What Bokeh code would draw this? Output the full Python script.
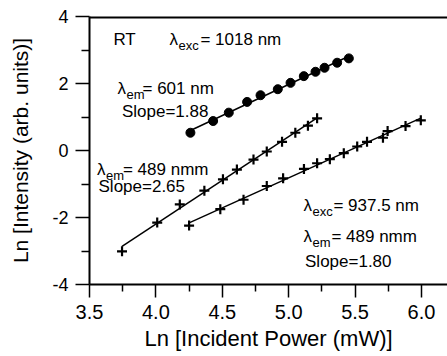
import numpy as np
from bokeh.plotting import figure
from bokeh.models import Range1d, FixedTicker, Label
from bokeh.embed import file_html
from bokeh.resources import INLINE

# ---- data ----
# lambda_exc = 1018 nm, lambda_em = 601 nm (circles)
x_601 = [4.260, 4.431, 4.549, 4.687, 4.788, 4.918, 5.014, 5.114, 5.202, 5.270, 5.365, 5.453]
y_601 = [0.53, 0.88, 1.13, 1.45, 1.65, 1.83, 2.02, 2.22, 2.35, 2.47, 2.62, 2.75]

# lambda_exc = 1018 nm, lambda_em = 489 nm (crosses, slope 2.65)
x_489a = [3.745, 4.010, 4.180, 4.365, 4.505, 4.610, 4.735, 4.835, 4.950, 5.050, 5.145, 5.214]
y_489a = [-3.01, -2.15, -1.61, -1.20, -0.86, -0.57, -0.27, -0.03, 0.26, 0.53, 0.74, 0.96]

# lambda_exc = 937.5 nm, lambda_em = 489 nm (crosses, slope 1.80)
x_489b = [4.250, 4.485, 4.660, 4.835, 4.958, 5.115, 5.214, 5.310, 5.415, 5.516, 5.590, 5.710, 5.745, 5.880, 5.995]
y_489b = [-2.24, -1.75, -1.47, -1.06, -0.83, -0.55, -0.38, -0.26, -0.08, 0.12, 0.26, 0.38, 0.58, 0.73, 0.90]

x_ticks = [3.5, 4.0, 4.5, 5.0, 5.5, 6.0]
x_tick_labels = ["3.5", "4.0", "4.5", "5.0", "5.5", "6.0"]
x_minor = [3.75, 4.25, 4.75, 5.25, 5.75]
y_ticks = [-4, -2, 0, 2, 4]
y_tick_labels = ["-4", "-2", "0", "2", "4"]
y_minor = [-3, -1, 1, 3]

X_LO, X_HI = 3.5, 6.196
Y_LO, Y_HI = -4, 4

FONT = "Liberation Sans"

p = figure(width=447, height=356, output_backend="svg", toolbar_location=None,
           x_range=Range1d(X_LO, X_HI), y_range=Range1d(Y_LO, Y_HI))
p.min_border_left = 89
p.min_border_right = 0
p.min_border_top = 16
p.min_border_bottom = 72
p.outline_line_color = None
p.grid.grid_line_color = None
p.background_fill_color = "white"
p.border_fill_color = "white"

# x axis
xa = p.xaxis[0]
xa.ticker = FixedTicker(ticks=x_ticks, minor_ticks=x_minor)
xa.major_label_overrides = dict(zip(x_ticks, x_tick_labels))
xa.axis_label = "Ln [Incident Power (mW)]"
xa.axis_label_text_font = FONT
xa.axis_label_text_font_size = "22px"
xa.axis_label_text_font_style = "normal"
xa.axis_label_text_color = "black"
xa.axis_label_standoff = 4
xa.major_label_text_font = FONT
xa.major_label_text_font_size = "20px"
xa.major_label_text_color = "black"
xa.major_label_standoff = 7
xa.axis_line_width = 2
xa.axis_line_color = "black"
xa.major_tick_out = 13
xa.major_tick_in = 0
xa.minor_tick_out = 7
xa.minor_tick_in = 0
xa.major_tick_line_width = 1.5
xa.minor_tick_line_width = 1.5
xa.major_tick_line_color = "black"
xa.minor_tick_line_color = "black"

# y axis
ya = p.yaxis[0]
ya.ticker = FixedTicker(ticks=y_ticks, minor_ticks=y_minor)
ya.major_label_overrides = dict(zip(y_ticks, y_tick_labels))
ya.axis_label = "Ln [Intensity (arb. units)]"
ya.axis_label_text_font = FONT
ya.axis_label_text_font_size = "21px"
ya.axis_label_text_font_style = "normal"
ya.axis_label_text_color = "black"
ya.axis_label_standoff = 17
ya.major_label_text_font = FONT
ya.major_label_text_font_size = "18px"
ya.major_label_text_color = "black"
ya.major_label_standoff = 7
ya.axis_line_width = 2
ya.axis_line_color = "black"
ya.major_tick_out = 14
ya.major_tick_in = 0
ya.minor_tick_out = 8
ya.minor_tick_in = 0
ya.major_tick_line_width = 1.5
ya.minor_tick_line_width = 1.5
ya.major_tick_line_color = "black"
ya.minor_tick_line_color = "black"

# top frame line only (the reference has no right-hand border);
# drawn on the frame's top edge, half of it is clipped away
p.line([X_LO, X_HI], [Y_HI, Y_HI], line_color="black", line_width=4)

# series: fitted straight lines through each data set, plus markers
def fit_line(xs, ys):
    k, b = np.polyfit(xs, ys, 1)
    xe = [min(xs), max(xs)]
    return xe, [k * v + b for v in xe]

for xs, ys in ((x_601, y_601), (x_489a, y_489a), (x_489b, y_489b)):
    fx, fy = fit_line(xs, ys)
    p.line(fx, fy, line_color="black", line_width=1.5)

p.scatter(x_601, y_601, marker="circle", size=9, color="black")
p.scatter(x_489a, y_489a, marker="cross", size=10, line_color="black", line_width=2.2)
p.scatter(x_489b, y_489b, marker="cross", size=10, line_color="black", line_width=2.2)


def txt(x, y, s, size="17px", dx=0, dy=0):
    p.add_layout(Label(x=x, y=y, text=s, x_offset=dx, y_offset=dy,
                       text_font=FONT, text_font_size=size, text_color="black",
                       text_baseline="alphabetic", text_align="left"))


def lam(x, y, sub, rest, sub_dx=9, rest_dx=30):
    txt(x, y, "\u03bb")
    txt(x, y, sub, size="13px", dx=sub_dx, dy=-6)
    txt(x, y, rest, dx=rest_dx)


txt(3.68, 3.30, "RT")
lam(4.102, 3.30, "exc", "= 1018 nm", rest_dx=31)
lam(3.711, 1.86, "em", "= 601 nm", rest_dx=25)
txt(3.744, 1.16, "Slope=1.88")
lam(3.556, -0.56, "em", "= 489 nmm", rest_dx=26)
txt(3.568, -1.06, "Slope=2.65")
lam(5.111, -1.65, "exc", "= 937.5 nm", rest_dx=30)
lam(5.111, -2.58, "em", "= 489 nmm", rest_dx=28)
txt(5.123, -3.32, "Slope=1.80")

open("out.html", "w").write(file_html(p, INLINE))
